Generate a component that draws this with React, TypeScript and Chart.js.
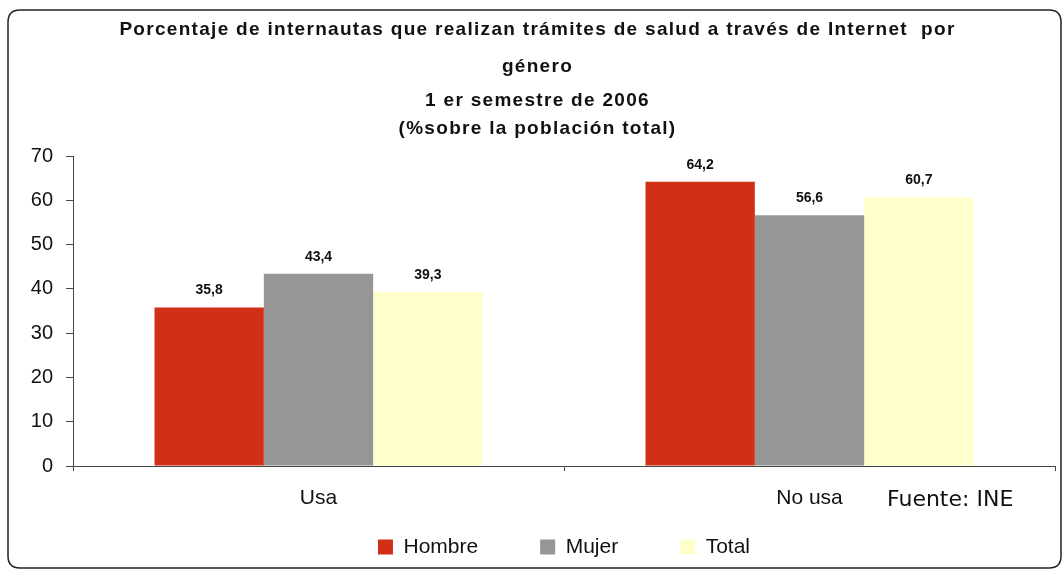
import React, { useEffect, useRef } from "react";
import { Chart, registerables } from "chart.js";

Chart.register(...registerables);

const categories = ["Usa", "No usa"];
const seriesNames = ["Hombre", "Mujer", "Total"];
const hombre = [35.8, 64.2];
const mujer = [43.4, 56.6];
const total = [39.3, 60.7];
const seriesColors = ["#D22F17", "#969696", "#FFFFCC"];
const titleLines = [
  "Porcentaje de internautas que realizan trámites de salud a través de Internet  por",
  "género",
];
const subtitleLines = ["1 er semestre de 2006", "(%sobre la población total)"];
const sourceText = "Fuente: INE";
const yMin = 0;
const yMax = 70;
const yStep = 10;

const SANS = "'Liberation Sans', Arial, sans-serif";

const spacingPlugin = {
  id: "titleSpacing",
  afterLayout(chart: any) {
    const tb = chart.titleBlock;
    if (!tb) return;
    const TitleCls = tb.constructor;
    chart.boxes.forEach((b: any) => {
      if (b && b.constructor === TitleCls && !b.__spaced) {
        const orig = b.draw.bind(b);
        b.draw = (...args: any[]) => {
          const c: any = b.ctx;
          const prev = c.letterSpacing;
          c.letterSpacing = "1.3px";
          orig(...args);
          c.letterSpacing = prev || "0px";
        };
        b.__spaced = true;
      }
    });
  },
};

const framePlugin = {
  id: "frame",
  afterDraw(chart: any) {
    const ctx = chart.ctx;
    ctx.save();
    const x = 8, y = 10, w = 1053, h = 558, r = 12;
    ctx.beginPath();
    ctx.moveTo(x + r, y);
    ctx.lineTo(x + w - r, y);
    ctx.quadraticCurveTo(x + w, y, x + w, y + r);
    ctx.lineTo(x + w, y + h - r);
    ctx.quadraticCurveTo(x + w, y + h, x + w - r, y + h);
    ctx.lineTo(x + r, y + h);
    ctx.quadraticCurveTo(x, y + h, x, y + h - r);
    ctx.lineTo(x, y + r);
    ctx.quadraticCurveTo(x, y, x + r, y);
    ctx.closePath();
    ctx.lineWidth = 1.5;
    ctx.strokeStyle = "#222";
    ctx.stroke();

    // data labels
    ctx.fillStyle = "#111";
    ctx.font = `bold 14px ${SANS}`;
    ctx.textAlign = "center";
    ctx.textBaseline = "alphabetic";
    chart.data.datasets.forEach((ds: any, i: number) => {
      const meta = chart.getDatasetMeta(i);
      meta.data.forEach((bar: any, j: number) => {
        const v = ds.data[j];
        const txt = v.toFixed(1).replace(".", ",");
        ctx.fillText(txt, bar.x, bar.y - 13);
      });
    });

    // source note
    ctx.font = `22px 'DejaVu Sans', Verdana, sans-serif`;
    ctx.textAlign = "left";
    ctx.fillStyle = "#111";
    ctx.fillText(sourceText, 887, 506);
    ctx.restore();
  },
};

export default function App() {
  const ref = useRef<HTMLCanvasElement | null>(null);

  useEffect(() => {
    if (!ref.current) return;
    const data = [hombre, mujer, total];
    const chart = new Chart(ref.current, {
      type: "bar",
      data: {
        labels: categories,
        datasets: seriesNames.map((name, i) => ({
          label: name,
          data: data[i],
          backgroundColor: seriesColors[i],
          borderWidth: 0,
          categoryPercentage: 0.668,
          barPercentage: 1,
        })),
      },
      options: {
        animation: false,
        responsive: false,
        maintainAspectRatio: false,
        layout: { padding: { left: 20, right: 7, top: 0, bottom: 1.5 } },
        plugins: {
          title: {
            display: true,
            text: titleLines,
            color: "#111",
            font: { family: SANS, size: 19, weight: "bold", lineHeight: "37px" },
            padding: { top: 11.5, bottom: 0 },
          },
          subtitle: {
            display: true,
            text: subtitleLines,
            color: "#111",
            font: { family: SANS, size: 19, weight: "bold", lineHeight: "28px" },
            padding: { top: 1.5, bottom: 13 },
          },
          legend: {
            display: true,
            position: "bottom",
            fullSize: false,
            labels: {
              boxWidth: 15,
              boxHeight: 15,
              padding: 62,
              color: "#111",
              font: { family: SANS, size: 21 },
            },
          },
          tooltip: { enabled: false },
        },
        scales: {
          x: {
            offset: true,
            grid: {
              offset: true,
              drawOnChartArea: false,
              tickLength: 5,
              color: "#444",
            },
            border: { display: true, color: "#444", width: 1 },
            ticks: {
              color: "#111",
              font: { family: SANS, size: 21 },
              mirror: true,
              padding: -44.5,
            },
            afterFit: (s: any) => {
              s.height = 8.5;
            },
          },
          y: {
            min: yMin,
            max: yMax,
            grid: {
              drawOnChartArea: false,
              tickLength: 7,
              color: "#444",
            },
            border: { display: true, color: "#444", width: 1 },
            ticks: {
              stepSize: yStep,
              color: "#111",
              font: { family: SANS, size: 20 },
              padding: 13,
            },
            afterFit: (s: any) => {
              s.width = 53;
            },
          },
        },
      },
      plugins: [spacingPlugin, framePlugin],
    });
    return () => chart.destroy();
  }, []);

  return (
    <div style={{ position: "fixed", left: 0, top: 0, width: 1062, height: 569, background: "#fff" }}>
      <canvas ref={ref} width={1062} height={569} style={{ display: "block" }} />
    </div>
  );
}
